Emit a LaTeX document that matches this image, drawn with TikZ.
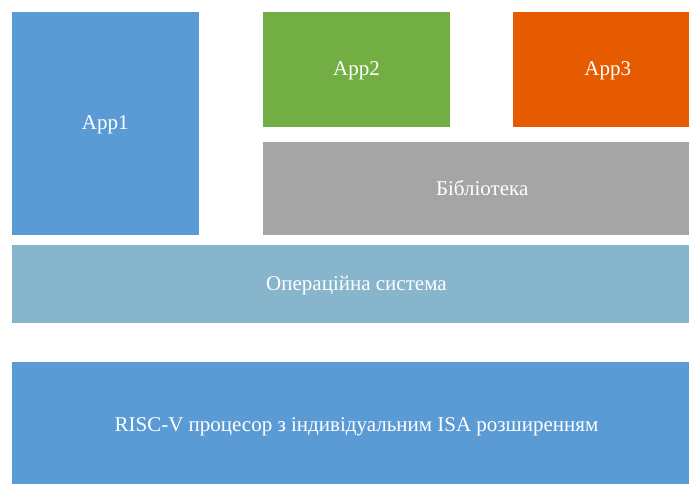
\documentclass[tikz,border=0pt]{standalone}
\usepackage{fontspec}
\setmainfont{Liberation Serif}
\usepackage{xcolor}
\usepackage{tikz}

\definecolor{appblue}{HTML}{5B9BD5}
\definecolor{appgreen}{HTML}{72AE44}
\definecolor{apporange}{HTML}{E65A00}
\definecolor{libgray}{HTML}{A5A5A5}
\definecolor{osblue}{HTML}{86B5CC}

\tikzset{
  layer/.style={rectangle, inner sep=0pt, outer sep=0pt, anchor=north west,
    text=white, font=\fontsize{21}{25}\selectfont,
    text height=2.9ex, text depth=0pt}
}

\begin{document}
\begin{tikzpicture}[x=1pt, y=-1pt]
    % Frame
    \useasboundingbox (0,0) rectangle (689,483);
    \clip (0,0) rectangle (689,483);

    % Applications
    \node[layer, fill=appblue, minimum width=187.5pt, minimum height=223.5pt] (app1) at (11.5,11.5) {App1};
    \node[layer, fill=appgreen, minimum width=187.5pt, minimum height=115.5pt] (app2) at (262.7,11.5) {App2};
    \node[layer, fill=apporange, minimum width=189pt, minimum height=115.5pt] (app3) at (513.3,11.5) {App3};

    % Library
    \node[layer, fill=libgray, minimum width=439pt, minimum height=93pt] (lib) at (262.7,142) {Бібліотека};

    % Operating system
    \node[layer, fill=osblue, minimum width=690pt, minimum height=78pt] (os) at (11.5,245.3) {Операційна система};

    % Processor
    \node[layer, fill=appblue, minimum width=690pt, minimum height=126pt] (cpu) at (11.5,362.3) {RISC-V процесор з індивідуальним ISA розширенням};
\end{tikzpicture}
\end{document}
